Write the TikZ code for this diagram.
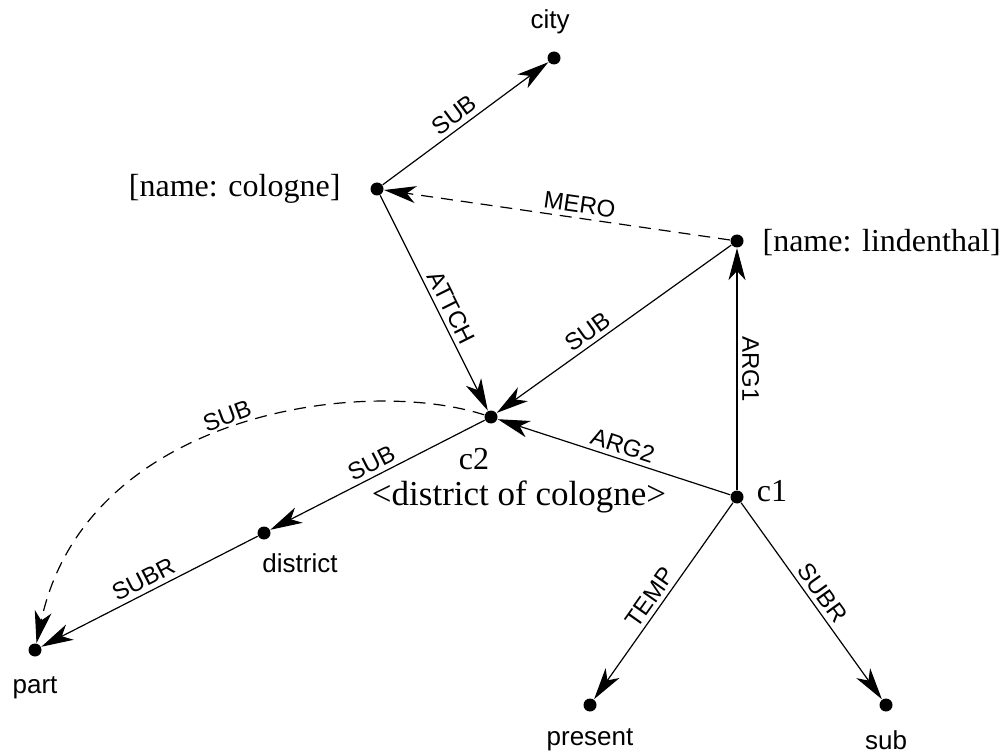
\documentclass[tikz,border=0pt]{standalone}
\usepackage{fontspec}
\setmainfont{Liberation Serif}
\setsansfont{Liberation Sans}
\usetikzlibrary{arrows.meta}
\begin{document}
\begin{tikzpicture}[x=1pt,y=-1pt,
  >={Stealth[length=32pt,width=17pt,inset=9pt]},
  line width=1.2pt,
  dot/.style={circle,fill=black,inner sep=0pt,minimum size=13pt},
  lab/.style={font=\sffamily\fontsize{24}{24}\selectfont, sloped, above, inner sep=4.5pt},
  nlab/.style={font=\sffamily\fontsize{26}{26}\selectfont, inner sep=0pt},
  slab/.style={font=\fontsize{32}{32}\selectfont, inner sep=0pt},
  dsh/.style={dash pattern=on 12pt off 8pt}]
\useasboundingbox (0,0) rectangle (1005,754);
% nodes
\node[dot] (city) at (554,58) {};
\node[dot] (cologne) at (377,189) {};
\node[dot] (linden) at (737,241) {};
\node[dot] (c2) at (491,417) {};
\node[dot] (c1) at (737,497) {};
\node[dot] (district) at (264,533) {};
\node[dot] (part) at (35,650) {};
\node[dot] (present) at (590,705) {};
\node[dot] (sub) at (886,705) {};
% labels
\node[nlab] (tcity) at (550,22) {city};
\node[slab,anchor=east] (tcologne) at (341,189) {[name: cologne]};
\node[slab,anchor=west] (tlinden) at (762,243) {[name: lindenthal]};
\node[slab] (tc2) at (474,459) {c2};
\node[font=\fontsize{35}{35}\selectfont, inner sep=0pt] (tdoc) at (519,497) {<district of cologne>};
\node[slab] (tc1) at (772,491) {c1};
\node[nlab] (tdistrict) at (300,563) {district};
\node[nlab] (tpart) at (35,688) {part};
\node[nlab] (tpresent) at (590,740) {present};
\node[nlab] (tsub) at (886,740) {sub};
% edges
\draw[->] (cologne) -- node[lab,pos=0.48]{SUB} (city);
\draw[->,dsh] (linden) -- node[lab,pos=0.44]{MERO} (cologne);
\draw[->] (cologne) -- node[lab,pos=0.55]{ATTCH} (c2);
\draw[->] (linden) -- node[lab,pos=0.58]{SUB} (c2);
\draw[<-] (linden) -- node[lab]{ARG1} (c1);
\draw[->] (c1) -- node[lab,pos=0.48]{ARG2} (c2);
\draw[->] (c2) -- node[lab]{SUB} (district);
\draw[->] (district) -- node[lab]{SUBR} (part);
\draw[->] (c1) -- node[lab,pos=0.52]{TEMP} (present);
\draw[->] (c1) -- node[lab]{SUBR} (sub);
\draw[->,dsh] (c2) .. controls (360,375) and (85,415) .. node[lab,pos=0.5]{SUB} (part);
\end{tikzpicture}
\end{document}
